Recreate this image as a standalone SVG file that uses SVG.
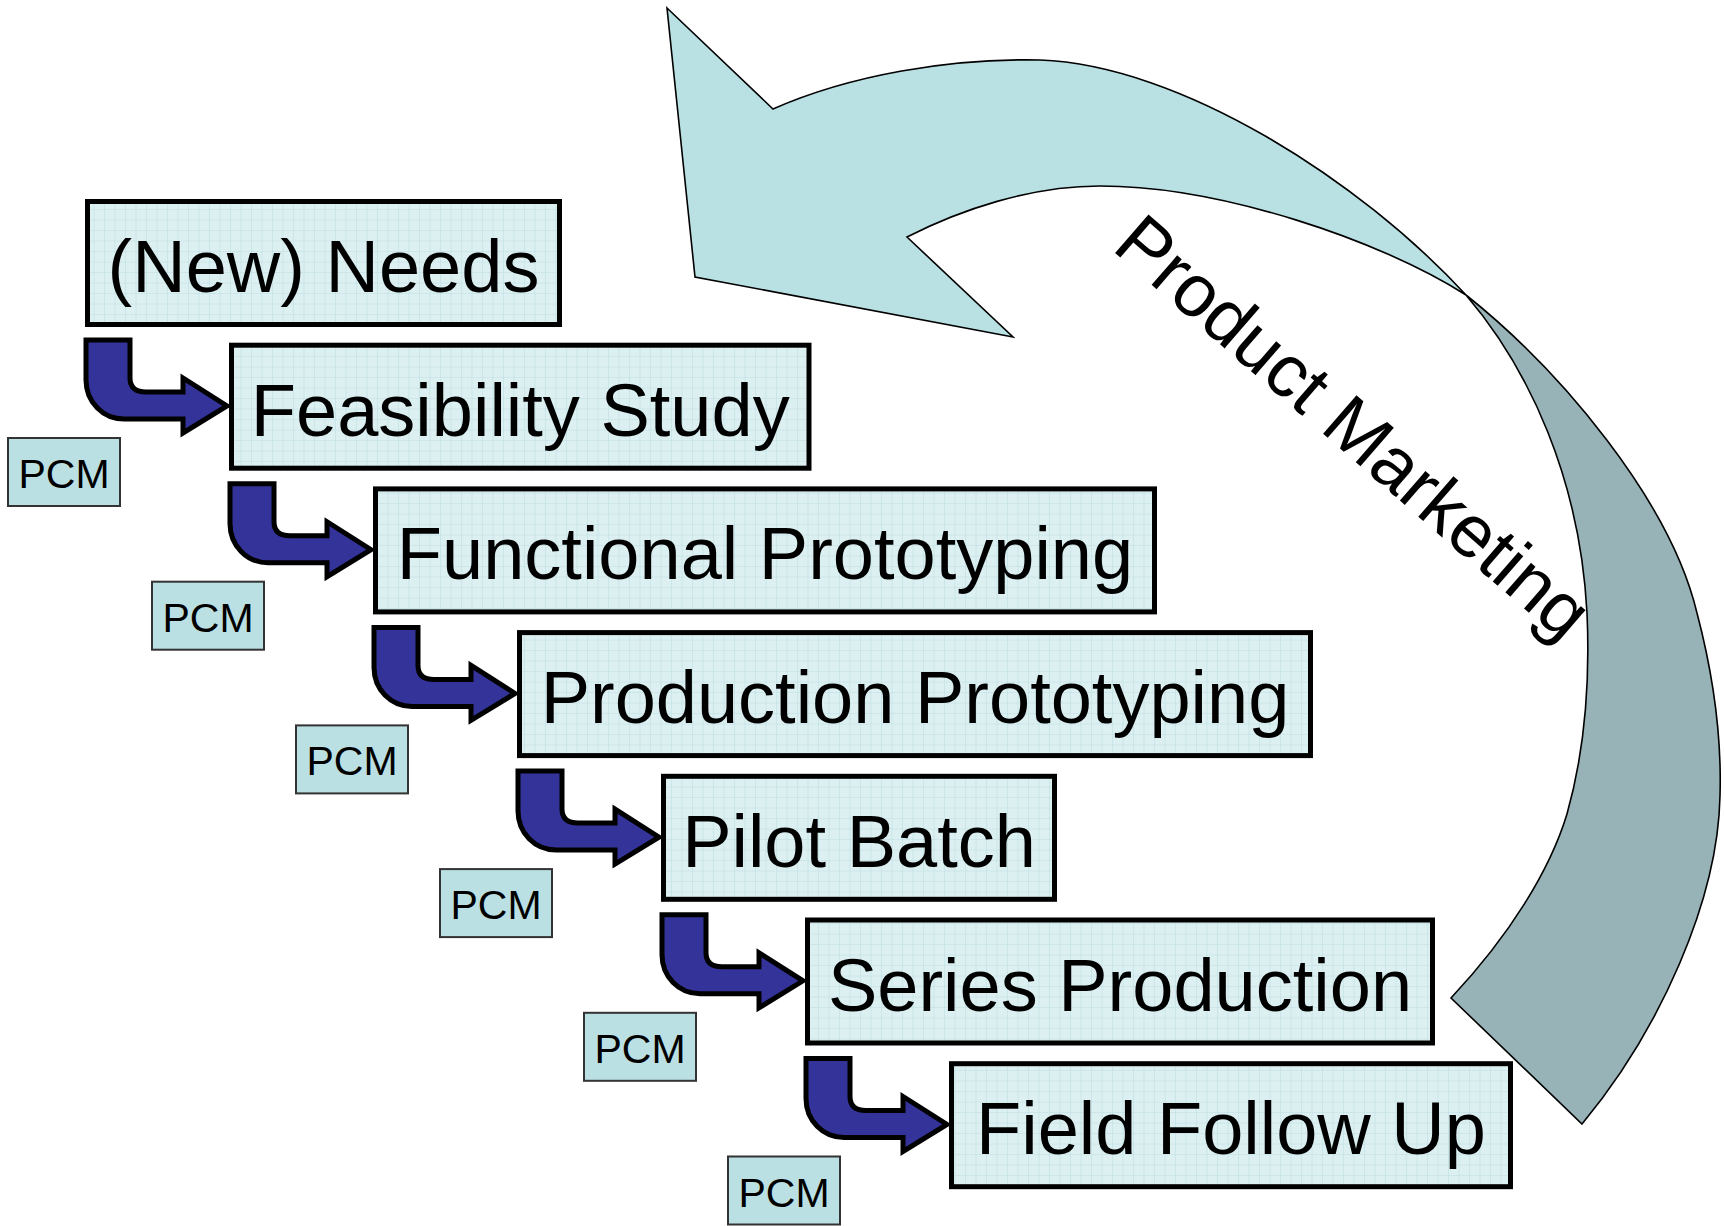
<svg xmlns="http://www.w3.org/2000/svg" width="1724" height="1226" viewBox="0 0 1724 1226">
<defs>
<pattern id="grid" width="10.5" height="10.5" patternUnits="userSpaceOnUse">
<rect width="10.5" height="10.5" fill="#DCEFF1"/>
<path d="M10.5 0V10.5M0 10.5H10.5" stroke="#BCDEE1" stroke-width="1"/>
</pattern>
<path id="bent" d="M 86 340 L 130 340 L 130 378 Q 130 392 146 392 L 183 392 L 183 378 L 227 406 L 183 433 L 183 419 L 124 419 C 103 419 86 402 86 380 Z"/>
</defs>
<style>
.box{fill:url(#grid);stroke:#000;stroke-width:5}
.lbl{font-family:"Liberation Sans",Arial,sans-serif;font-size:74px;fill:#000;text-anchor:middle}
.pcm{fill:#BBE0E3;stroke:#333;stroke-width:2}
.pcmt{font-family:"Liberation Sans",Arial,sans-serif;font-size:41px;fill:#000;text-anchor:middle}
.bent{fill:#333399;stroke:#000;stroke-width:5;stroke-linejoin:miter}
.front{fill:#B9E0E3;stroke:#000;stroke-width:1.6}
.back{fill:#97B3B7;stroke:#000;stroke-width:1.6}
</style>
<rect width="1724" height="1226" fill="#fff"/>

<g id="product-marketing">
<path class="back" d="M 1466 295 C 1560 370 1670 500 1697 613 C 1712 670 1722 730 1720 796 C 1718 900 1660 1030 1582 1124 L 1451 998 C 1510 935 1550 870 1567 814 C 1585 750 1590 680 1587 613 C 1580 480 1530 370 1466 295 Z"/>
<path class="front" d="M 667 8 L 773 109 C 850 75 950 58 1040 60 C 1180 65 1360 180 1466 295 C 1380 240 1220 186 1100 186 C 1030 186 960 210 907 237 L 1013 337 L 695 277 Z"/>
<text class="lbl" transform="translate(1337,446) rotate(41)">Product Marketing</text>
</g>

<g id="connectors">
<use href="#bent" class="bent"/>
<use href="#bent" class="bent" transform="translate(144,143.7)"/>
<use href="#bent" class="bent" transform="translate(288,287.4)"/>
<use href="#bent" class="bent" transform="translate(432,431.1)"/>
<use href="#bent" class="bent" transform="translate(576,574.8)"/>
<use href="#bent" class="bent" transform="translate(720,718.5)"/>
</g>

<g id="node-new-needs"><rect class="box" x="87.5" y="201.5" width="472" height="123"/><text class="lbl" x="323.5" y="292">(New) Needs</text></g>
<g id="node-feasibility-study"><rect class="box" x="231.5" y="345.2" width="577.5" height="123"/><text class="lbl" x="520.25" y="435.7">Feasibility Study</text></g>
<g id="node-functional-prototyping"><rect class="box" x="375.5" y="488.9" width="779" height="123"/><text class="lbl" x="765" y="579.4">Functional Prototyping</text></g>
<g id="node-production-prototyping"><rect class="box" x="519.5" y="632.6" width="791" height="123"/><text class="lbl" x="915" y="723.1">Production Prototyping</text></g>
<g id="node-pilot-batch"><rect class="box" x="663.5" y="776.3" width="391" height="123"/><text class="lbl" x="859" y="866.8">Pilot Batch</text></g>
<g id="node-series-production"><rect class="box" x="807.5" y="920" width="625" height="123"/><text class="lbl" x="1120" y="1010.5">Series Production</text></g>
<g id="node-field-follow-up"><rect class="box" x="951.5" y="1063.7" width="559" height="123"/><text class="lbl" x="1231" y="1154.2">Field Follow Up</text></g>

<g id="pcm-1"><rect class="pcm" x="8" y="438" width="112" height="68"/><text class="pcmt" x="64" y="488">PCM</text></g>
<g id="pcm-2"><rect class="pcm" x="152" y="581.7" width="112" height="68"/><text class="pcmt" x="208" y="631.7">PCM</text></g>
<g id="pcm-3"><rect class="pcm" x="296" y="725.4" width="112" height="68"/><text class="pcmt" x="352" y="775.4">PCM</text></g>
<g id="pcm-4"><rect class="pcm" x="440" y="869.1" width="112" height="68"/><text class="pcmt" x="496" y="919.1">PCM</text></g>
<g id="pcm-5"><rect class="pcm" x="584" y="1012.8" width="112" height="68"/><text class="pcmt" x="640" y="1062.8">PCM</text></g>
<g id="pcm-6"><rect class="pcm" x="728" y="1156.5" width="112" height="68"/><text class="pcmt" x="784" y="1206.5">PCM</text></g>
</svg>
